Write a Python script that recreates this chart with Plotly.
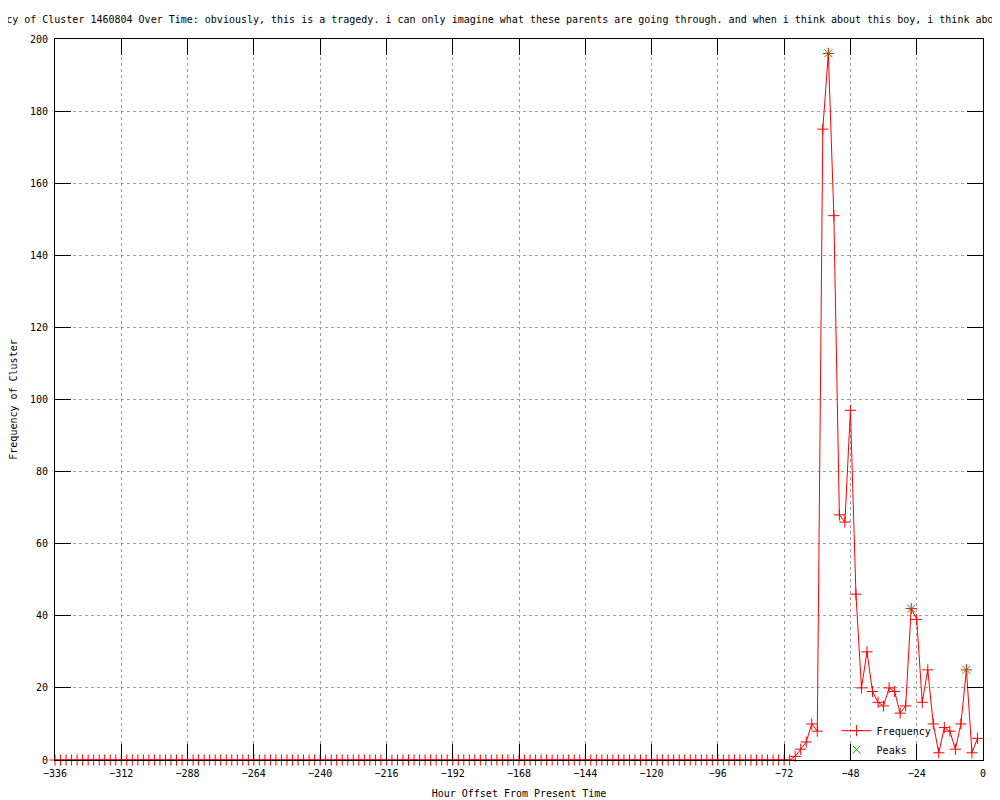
import plotly.graph_objects as go

# Hour offsets (every 2 hours from -336 to -2)
hours = list(range(-336, 0, 2))

# Frequency values
freq_zero_part = [0] * 134  # -336 .. -70 all zero
freq_active = [1, 3, 5, 10, 8,
               175, 196, 151, 68, 66,
               97, 46, 20, 30, 19,
               16, 15, 20, 19, 13,
               15, 42, 39, 16, 25,
               10, 2, 9, 8, 3,
               10, 25, 2, 6]
frequency = freq_zero_part + freq_active

# Detected peaks
peak_hours = [-56, -26, -6]
peak_values = [196, 42, 25]

title_text = ("Frequency of Cluster 1460804 Over Time: obviously, this is a tragedy. "
              "i can only imagine what these parents are going through. and when i think "
              "about this boy, i think about")

FONT = "DejaVu Sans Mono"

fig = go.Figure()
fig.add_trace(go.Scatter(
    x=hours, y=frequency, mode="lines+markers", name="Frequency",
    line=dict(color="#ff0000", width=1),
    marker=dict(symbol="cross-thin", size=8, line=dict(color="#ff0000", width=1)),
    cliponaxis=False,
))
fig.add_trace(go.Scatter(
    x=peak_hours, y=peak_values, mode="markers", name="Peaks",
    marker=dict(symbol="x-thin", size=8, color="#00b000", line=dict(color="#00b000", width=1)),
    cliponaxis=False,
))

axis_common = dict(
    showline=True, linecolor="black", linewidth=1, mirror="ticks",
    ticks="inside", ticklen=16, tickwidth=1, tickcolor="black",
    showgrid=True, gridcolor="#a0a0a0", gridwidth=1, griddash="3px,3px",
    zeroline=False, ticklabelstandoff=4,
    tickfont=dict(family=FONT, size=10, color="black"),
)

fig.update_xaxes(
    range=[-336, 0], tick0=-336, dtick=24, tickmode="linear",
    title=dict(text="Hour Offset From Present Time", font=dict(family=FONT, size=10, color="black"), standoff=11),
    **axis_common,
)
fig.update_yaxes(
    range=[0, 200], tick0=0, dtick=20, tickmode="linear",
    title=dict(text="Frequency of Cluster", font=dict(family=FONT, size=10, color="black"), standoff=12),
    **axis_common,
)

# page has an 8px body margin; plot area should land at x 55..983, y 39..760
ML, MR, MT, MB = 47, 25, 31, 48
plot_w = 1000 - ML - MR
plot_h = 800 - MT - MB

# Title: wider than the page, both ends clipped as in the original
fig.add_annotation(
    text=title_text, xref="paper", yref="paper",
    x=(-38 - 55) / plot_w, xanchor="left",
    y=1, yanchor="bottom", yshift=12, showarrow=False,
    font=dict(family=FONT, size=10, color="black"),
)

fig.update_layout(
    width=1000, height=800,
    margin=dict(l=ML, r=MR, t=MT, b=MB, autoexpand=False),
    paper_bgcolor="white", plot_bgcolor="white",
    font=dict(family=FONT, size=10, color="black"),
    showlegend=True,
    legend=dict(x=0.95, xanchor="right", y=-0.003 - 2 / plot_h, yanchor="bottom",
                bgcolor="rgba(0,0,0,0)", font=dict(family=FONT, size=10, color="black"),
                tracegroupgap=0, itemwidth=30),
)

fig.write_html("out.html")
